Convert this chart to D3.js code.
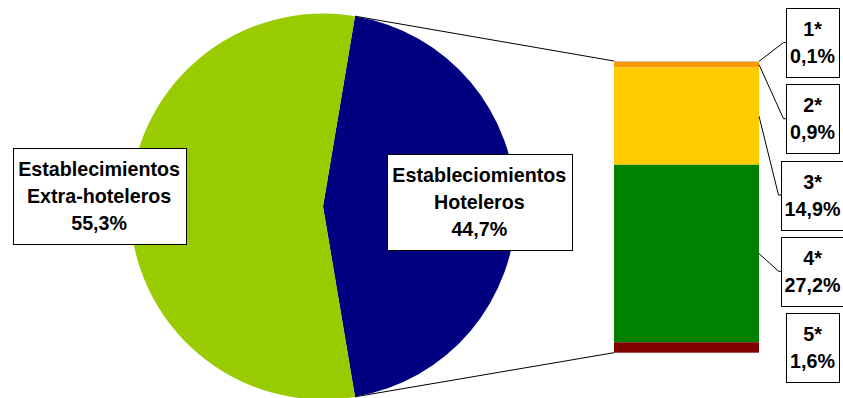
<!DOCTYPE html>
<html>
<head>
<meta charset="utf-8">
<script src="https://cdn.jsdelivr.net/npm/d3@7"></script>
<style>
  html, body { margin: 0; padding: 0; background: #fff; }
  svg { display: block; }
  text { font-family: "Liberation Sans", Arial, sans-serif; font-weight: bold; fill: #000; }
</style>
</head>
<body>
<svg id="chart" width="843" height="398"></svg>
<script>
// Pie: share of establishments by type
const pieNames = [["Estableciomientos", "Hoteleros"], ["Establecimientos", "Extra-hoteleros"]];
const pieValues = [44.7, 55.3];
const pieColors = ["#000080", "#99cc00"];

// Stacked bar: breakdown of the hotel slice by category (top to bottom)
const barNames = ["1*", "2*", "3*", "4*", "5*"];
const barValues = [0.1, 0.9, 14.9, 27.2, 1.6];
const barColors = ["#99ccff", "#ff9900", "#ffcc00", "#008000", "#800000"];

const W = 843, H = 398;
const fontSize = 19.7, lineH = 27;
const fmt = v => d3.format(".1f")(v).replace(".", ",") + "%";

const svg = d3.select("#chart");

// ---- pie ----
const cx = 323, cy = 206.5, R = 193;
const total = d3.sum(pieValues);
const hotelSpan = pieValues[0] / total * 2 * Math.PI;
const start = Math.PI / 2 - hotelSpan / 2;
const pie = d3.pie().sort(null).startAngle(start).endAngle(start + 2 * Math.PI);
const arcs = pie(pieValues);
const arc = d3.arc().innerRadius(0).outerRadius(R);

const gPie = svg.append("g").attr("transform", `translate(${cx},${cy})`);
gPie.selectAll("path").data(arcs).join("path")
  .attr("d", arc)
  .attr("fill", (d, i) => pieColors[i]);

// ---- bar ----
const barX = d3.scaleBand().domain(["bar"]).range([614, 759]).padding(0);
const barY = d3.scaleLinear().domain([0, d3.sum(barValues)]).range([61, 352.7]);
const cum = d3.cumsum(barValues);
const segs = barValues.map((v, i) => ({ name: barNames[i], value: v, y0: cum[i] - v, y1: cum[i], color: barColors[i] }));

svg.append("g").selectAll("rect").data(segs).join("rect")
  .attr("x", barX("bar"))
  .attr("width", barX.bandwidth())
  .attr("y", d => barY(d.y0))
  .attr("height", d => barY(d.y1) - barY(d.y0))
  .attr("fill", d => d.color);

// connectors from the hotel slice to the bar
const hot = arcs[0];
const edge = a => [cx + R * Math.sin(a), cy - R * Math.cos(a)];
const [tx, ty] = edge(hot.startAngle);
const [bx, by] = edge(hot.endAngle);
const bl = barX("bar");
svg.append("line").attr("x1", tx).attr("y1", ty).attr("x2", bl).attr("y2", barY(0))
  .attr("stroke", "#000").attr("stroke-width", 1);
svg.append("line").attr("x1", bx).attr("y1", by).attr("x2", bl).attr("y2", barY(d3.sum(barValues)))
  .attr("stroke", "#000").attr("stroke-width", 1);

// ---- label helper: bordered box with centred lines ----
function labelBox(g, lines, centerX, centerY, padX, padY) {
  const grp = g.append("g");
  const rect = grp.append("rect").attr("fill", "#fff").attr("stroke", "#000").attr("stroke-width", 1);
  const n = lines.length;
  const txts = lines.map((s, i) =>
    grp.append("text")
      .attr("x", centerX)
      .attr("y", centerY + (i - (n - 1) / 2) * lineH + 7)
      .attr("text-anchor", "middle")
      .attr("font-size", fontSize)
      .text(s));
  const w = d3.max(txts, t => t.node().getComputedTextLength());
  const h = n * lineH + 2 * padY - 12;
  const x0 = Math.round(centerX - w / 2 - padX) + 0.5;
  const y0 = Math.round(centerY - h / 2) + 0.5;
  rect.attr("x", x0).attr("y", y0).attr("width", Math.round(w + 2 * padX)).attr("height", Math.round(h));
  return { x0, y0, w: w + 2 * padX, h, cy: centerY };
}

// pie labels
const pieLabelPos = [
  { r: 0.81 * R, dy: -5 },
  { r: 1.16 * R, dy: -11 }
];
arcs.forEach((d, i) => {
  const mid = (d.startAngle + d.endAngle) / 2;
  const p = pieLabelPos[i];
  const x = cx + p.r * Math.sin(mid);
  const y = cy - p.r * Math.cos(mid) + p.dy;
  labelBox(svg, [...pieNames[i], fmt(pieValues[i])], x, y, 5.5, 13.5);
});

// bar labels: evenly stacked boxes on the right, leaders when offset from segment
const boxCX = 812.5;
const boxTop = 8, boxStep = 76.25, boxH = 69;
segs.forEach((s, i) => {
  const boxCY = boxTop + i * boxStep + boxH / 2;
  const b = labelBox(svg, [s.name, fmt(s.value)], boxCX, boxCY, 4, 13.5);
  const segMid = (barY(s.y0) + barY(s.y1)) / 2;
  if (Math.abs(segMid - boxCY) > 5) {
    const right = barX("bar") + barX.bandwidth();
    svg.append("polyline")
      .attr("points", [[right, segMid], [b.x0 - 3, boxCY], [b.x0, boxCY]].map(p => p.join(",")).join(" "))
      .attr("fill", "none").attr("stroke", "#000").attr("stroke-width", 1);
  }
});
</script>
</body>
</html>
